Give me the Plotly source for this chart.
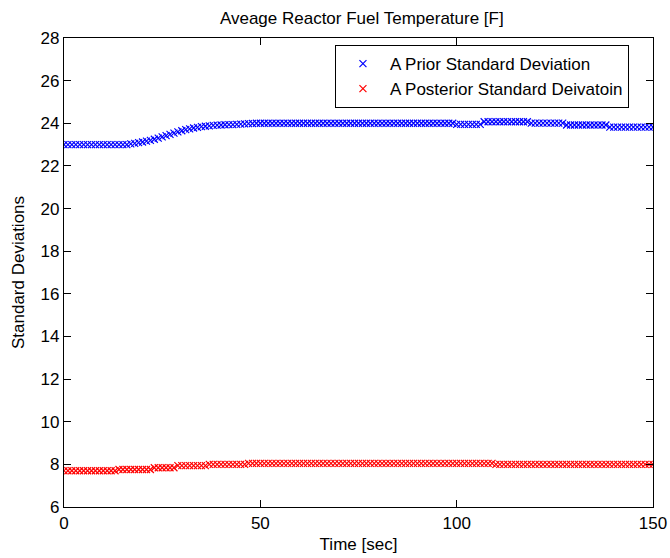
import plotly.graph_objects as go

# Time axis, one sample per second
time_sec = list(range(0, 151))

# A prior standard deviation of average reactor fuel temperature
prior_std = (
    [23.0] * 17
    + [23.03, 23.06, 23.09, 23.12, 23.16, 23.20, 23.25, 23.30, 23.36, 23.42,
       23.48, 23.54, 23.60, 23.65, 23.70, 23.74, 23.78, 23.81, 23.84, 23.86,
       23.88, 23.90, 23.91, 23.92, 23.93, 23.94, 23.94, 23.95, 23.96, 23.97,
       23.98, 23.99]
    + [24.0] * 51
    + [23.95] * 7
    + [24.07] * 12
    + [24.01] * 9
    + [23.92] * 11
    + [23.82] * 12
)

# A posterior standard deviation
posterior_std = (
    [7.70] * 14
    + [7.76] * 9
    + [7.84] * 6
    + [7.94] * 8
    + [8.00] * 10
    + [8.05] * 63
    + [8.00] * 41
)

x_ticks = [0, 50, 100, 150]
y_ticks = [6, 8, 10, 12, 14, 16, 18, 20, 22, 24, 26, 28]

FONT = "Liberation Sans, Arial, sans-serif"
FS = 17

fig = go.Figure()
fig.add_trace(go.Scatter(
    x=time_sec, y=prior_std, mode="markers",
    name="A Prior Standard Deviation",
    marker=dict(symbol="x-thin", size=7, line=dict(width=1.2, color="#0000ff"), color="#0000ff"),
))
fig.add_trace(go.Scatter(
    x=time_sec, y=posterior_std, mode="markers",
    name="A Posterior Standard Deivatoin",
    marker=dict(symbol="x-thin", size=7, line=dict(width=1.2, color="#ff0000"), color="#ff0000"),
))

axis_common = dict(
    showgrid=False, zeroline=False, automargin=False,
    showline=True, linecolor="black", linewidth=1.3,
    mirror="ticks", ticks="inside", ticklen=7, tickcolor="black", tickwidth=1,
    tickfont=dict(family=FONT, size=FS, color="black"),
)

fig.update_layout(
    width=670, height=558,
    margin=dict(l=64, r=17, t=38, b=51),
    paper_bgcolor="white", plot_bgcolor="white",
    font=dict(family=FONT, size=FS, color="black"),
    title=dict(text="Aveage Reactor Fuel Temperature [F]", x=0.54, xanchor="center",
               y=1 - 18 / 558, yanchor="middle", font=dict(family=FONT, size=FS, color="black")),
    xaxis=dict(range=[0, 150], tickvals=x_ticks,
               title=dict(text="Time [sec]", standoff=6, font=dict(family=FONT, size=FS)),
               **axis_common),
    yaxis=dict(range=[6, 28], tickvals=y_ticks,
               title=dict(text="Standard Deviations", standoff=11, font=dict(family=FONT, size=FS)),
               **axis_common),
    legend=dict(x=0.46, y=0.985, xanchor="left", yanchor="top",
                bgcolor="white", bordercolor="black", borderwidth=1,
                itemwidth=44,
                font=dict(family=FONT, size=FS, color="black")),
    showlegend=True,
)

fig.write_html("out.html")
